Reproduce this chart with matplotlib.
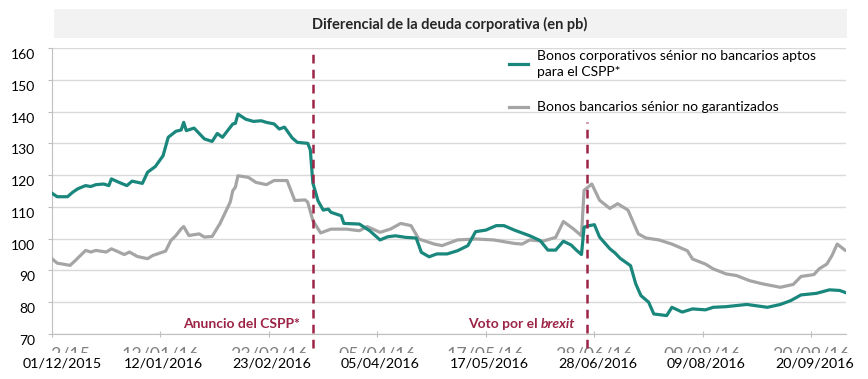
import datetime as dt
import numpy as np
import matplotlib
matplotlib.use('Agg')
import matplotlib.pyplot as plt
import matplotlib.dates as mdates
import matplotlib.transforms as mtransforms
from matplotlib.patches import Rectangle
from matplotlib.offsetbox import TextArea, HPacker, AnnotationBbox

## -- Data (spreads in bp)
cspp_dates = ["2015-12-01", "2015-12-03", "2015-12-07", "2015-12-09", "2015-12-11", "2015-12-14",
	"2015-12-16", "2015-12-18", "2015-12-21", "2015-12-23", "2015-12-24", "2015-12-27", "2015-12-30",
	"2016-01-01", "2016-01-05", "2016-01-07", "2016-01-10", "2016-01-13", "2016-01-15", "2016-01-18",
	"2016-01-20", "2016-01-21", "2016-01-22", "2016-01-25", "2016-01-29", "2016-02-01", "2016-02-03",
	"2016-02-05", "2016-02-09", "2016-02-10", "2016-02-11", "2016-02-14", "2016-02-17", "2016-02-20",
	"2016-02-22", "2016-02-25", "2016-02-27", "2016-02-29", "2016-03-03", "2016-03-05", "2016-03-09",
	"2016-03-10", "2016-03-11", "2016-03-13", "2016-03-15", "2016-03-17", "2016-03-18", "2016-03-22",
	"2016-03-23", "2016-03-29", "2016-04-02", "2016-04-06", "2016-04-09", "2016-04-12", "2016-04-16",
	"2016-04-20", "2016-04-22", "2016-04-25", "2016-04-28", "2016-05-02", "2016-05-06", "2016-05-10",
	"2016-05-13", "2016-05-17", "2016-05-21", "2016-05-24", "2016-05-28", "2016-06-01", "2016-06-03",
	"2016-06-07", "2016-06-10", "2016-06-13", "2016-06-16", "2016-06-19", "2016-06-21", "2016-06-23",
	"2016-06-24", "2016-06-26", "2016-06-28", "2016-06-30", "2016-07-04", "2016-07-06", "2016-07-08",
	"2016-07-12", "2016-07-14", "2016-07-16", "2016-07-19", "2016-07-21", "2016-07-26", "2016-07-28",
	"2016-08-01", "2016-08-05", "2016-08-10", "2016-08-13", "2016-08-18", "2016-08-26", "2016-09-03",
	"2016-09-08", "2016-09-12", "2016-09-16", "2016-09-22", "2016-09-27", "2016-10-01", "2016-10-03"]
cspp_values = [114.3, 113.2, 113.2, 114.6, 115.7, 116.7,
	116.4, 117.0, 117.2, 116.7, 118.8, 117.7, 116.7,
	118.1, 117.4, 120.9, 122.7, 126.1, 131.9, 133.8,
	134.2, 136.6, 134.0, 134.8, 131.4, 130.6, 133.1,
	131.9, 136.1, 136.3, 139.2, 137.6, 136.9, 137.1,
	136.6, 136.1, 134.5, 135.1, 131.7, 130.3, 130.0,
	128.0, 117.5, 111.9, 109.0, 109.3, 108.3, 107.2,
	104.8, 104.6, 102.5, 99.6, 100.6, 100.9, 100.4,
	100.2, 95.7, 94.3, 95.2, 95.2, 96.2, 97.8,
	102.2, 102.7, 104.1, 104.1, 102.7, 101.5, 100.9,
	99.4, 96.4, 96.4, 99.2, 98.0, 96.4, 95.0,
	103.6, 104.1, 104.4, 100.5, 96.8, 95.5, 93.8,
	91.5, 85.8, 82.1, 80.0, 76.3, 75.8, 78.4,
	76.9, 77.9, 77.6, 78.4, 78.6, 79.3, 78.4,
	79.3, 80.5, 82.3, 82.8, 83.9, 83.7, 83.1]

bank_dates = ["2015-12-01", "2015-12-03", "2015-12-08", "2015-12-10", "2015-12-12", "2015-12-14",
	"2015-12-16", "2015-12-18", "2015-12-22", "2015-12-24", "2015-12-26", "2015-12-29", "2015-12-31",
	"2016-01-03", "2016-01-07", "2016-01-09", "2016-01-14", "2016-01-16", "2016-01-18", "2016-01-20",
	"2016-01-21", "2016-01-23", "2016-01-27", "2016-01-29", "2016-02-01", "2016-02-04", "2016-02-08",
	"2016-02-09", "2016-02-10", "2016-02-11", "2016-02-15", "2016-02-18", "2016-02-22", "2016-02-25",
	"2016-03-01", "2016-03-04", "2016-03-08", "2016-03-09", "2016-03-11", "2016-03-14", "2016-03-18",
	"2016-03-24", "2016-03-29", "2016-04-01", "2016-04-06", "2016-04-10", "2016-04-14", "2016-04-18",
	"2016-04-21", "2016-04-27", "2016-04-30", "2016-05-06", "2016-05-13", "2016-05-20", "2016-05-28",
	"2016-05-31", "2016-06-03", "2016-06-08", "2016-06-13", "2016-06-16", "2016-06-20", "2016-06-23",
	"2016-06-24", "2016-06-27", "2016-06-30", "2016-07-04", "2016-07-07", "2016-07-11", "2016-07-15",
	"2016-07-18", "2016-07-23", "2016-07-28", "2016-08-03", "2016-08-05", "2016-08-10", "2016-08-13",
	"2016-08-18", "2016-08-22", "2016-08-27", "2016-09-01", "2016-09-08", "2016-09-13", "2016-09-16",
	"2016-09-21", "2016-09-23", "2016-09-26", "2016-09-28", "2016-09-30", "2016-10-03"]
bank_values = [93.7, 92.3, 91.6, 93.1, 94.7, 96.3,
	95.8, 96.3, 95.8, 96.8, 96.1, 95.0, 95.8,
	94.4, 93.7, 94.7, 96.1, 99.4, 101.0, 103.1,
	103.8, 101.0, 101.5, 100.5, 100.7, 104.7, 111.5,
	115.1, 116.2, 119.8, 119.3, 117.7, 117.0, 118.3,
	118.3, 112.0, 112.2, 111.5, 105.7, 101.8, 103.0,
	103.0, 102.5, 103.8, 102.0, 103.0, 104.8, 104.1,
	99.9, 98.3, 97.8, 99.6, 99.9, 99.6, 98.5,
	98.3, 99.6, 99.2, 100.4, 105.4, 103.0, 100.9,
	115.2, 117.2, 112.1, 109.5, 111.0, 109.0, 101.5,
	100.2, 99.6, 98.3, 96.2, 93.6, 92.0, 90.5,
	88.9, 88.4, 86.8, 85.8, 84.7, 85.6, 88.1,
	88.7, 90.5, 92.0, 94.7, 98.3, 96.4]

tick_dates = ["2015-12-01", "2016-01-12", "2016-02-23", "2016-04-05", "2016-05-17", "2016-06-28",
	"2016-08-09", "2016-09-20"]
tick_labels = ["01/12/2015", "12/01/2016", "23/02/2016", "05/04/2016", "17/05/2016", "28/06/2016",
	"09/08/2016", "20/09/2016"]
old_tick_labels = ["01/12/15", "12/01/16", "23/02/16", "05/04/16", "17/05/16", "28/06/16",
	"09/08/16", "20/09/16"]

event_dates = ["2016-03-11", "2016-06-25"]

title = "Diferencial de la deuda corporativa (en pb)"
label_cspp = "Bonos corporativos sénior no bancarios aptos\npara el CSPP*"
label_bank = "Bonos bancarios sénior no garantizados"

def to_dt(lst):
	return [dt.datetime.strptime(d, "%Y-%m-%d") for d in lst]

teal = "#1A877D"
grey = "#A5A5A5"
crimson = "#9C2447"
PX = 0.72  # points per pixel at dpi 100

plt.rcParams['font.family'] = ['Lato', 'DejaVu Sans']
fig = plt.figure(figsize=(8.68, 3.79), dpi=100)
W, H = 868.0, 379.0

# title banner
fig.patches.append(Rectangle((54 / W, 1 - 38 / H), 793 / W, 29 / H, transform=fig.transFigure,
	facecolor="#F2F2F2", edgecolor="none", zorder=0))
fig.text(450 / W, 1 - 24 / H, title, ha="center", va="center", fontsize=10.5, fontweight="bold",
	color="#262626")

ax = fig.add_axes([52 / W, 1 - 334 / H, 794 / W, 286 / H])

l1, = ax.plot(to_dt(cspp_dates), cspp_values, color=teal, lw=2.3, label=label_cspp, zorder=4)
l2, = ax.plot(to_dt(bank_dates), bank_values, color=grey, lw=2.3, label=label_bank, zorder=3)

ax.set_ylim(70, 160)
ax.set_yticks(np.arange(70, 161, 10))
ax.set_xlim(dt.datetime(2015, 12, 1), dt.datetime(2016, 10, 3, 10))
ax.set_xticks(to_dt(tick_dates))

ax.grid(axis="y", color="#D9D9D9", lw=1)
ax.set_axisbelow(True)
for s in ["top", "right"]:
	ax.spines[s].set_visible(False)
ax.spines["left"].set_color("#BFBFBF")
ax.spines["bottom"].set_color("#BFBFBF")
ax.tick_params(axis="y", direction="out", length=3, color="#BFBFBF", labelsize=10, pad=9)
ax.tick_params(axis="x", direction="inout", length=5, color="#BFBFBF", labelbottom=False)

for lab in ax.get_yticklabels():
	lab.set_transform(lab.get_transform() + mtransforms.ScaledTranslation(0, -6 / 100.0, fig.dpi_scale_trans))

# date labels (first one nudged right like in the original)
for i, (d, txt) in enumerate(zip(to_dt(tick_dates), tick_labels)):
	dx = 10 if i == 0 else 3
	ax.annotate(txt, xy=(mdates.date2num(d), 0), xycoords=("data", "axes fraction"),
		xytext=(dx * PX, -33 * PX), textcoords="offset points", ha="center", va="baseline",
		fontsize=10.3, color="black", annotation_clip=False, zorder=6)

# remnants of the old date labels, mostly hidden
clip = mtransforms.Bbox.from_extents(50, H - 353, W, H - 343)
for d, txt in zip(to_dt(tick_dates), old_tick_labels):
	t = ax.annotate(txt, xy=(mdates.date2num(d), 0), xycoords=("data", "axes fraction"),
		xytext=(0, -26 * PX), textcoords="offset points", ha="center", va="baseline",
		fontsize=12.8, color="#7F7F7F", annotation_clip=False)
	t.set_clip_box(clip)
	t.set_clip_on(True)

# event lines
ev = to_dt(event_dates)
ax.axvline(ev[0], ymin=-0.05, ymax=0.982, color=crimson, lw=1.8, dashes=(3.5, 2.5), clip_on=False, zorder=5)
ax.axvline(ev[1], ymin=-0.05, ymax=0.74, color=crimson, lw=1.8, dashes=(3.5, 2.5), clip_on=False, zorder=5)

ax.annotate("Anuncio del CSPP*", xy=(ev[0], 73.1), xytext=(-9, 0), textcoords="offset points",
	ha="right", va="center", fontsize=10, fontweight="bold", color=crimson)
pack = HPacker(children=[
	TextArea("Voto por el ", textprops=dict(fontsize=10, fontweight="bold", color=crimson)),
	TextArea("brexit", textprops=dict(fontsize=10, fontweight="bold", style="italic", color=crimson))],
	sep=0, pad=0, align="baseline")
ab = AnnotationBbox(pack, (ev[1], 73.1), xybox=(-8, 0), boxcoords="offset points",
	box_alignment=(1, 0.5), frameon=False, pad=0)
ax.add_artist(ab)

leg = ax.legend(handles=[l1, l2], loc="upper left", bbox_to_anchor=(509 / W, 1 - 50 / H),
	bbox_transform=fig.transFigure, frameon=False, fontsize=10, handlelength=1.4,
	handletextpad=0.65, labelspacing=1.65, borderpad=0, borderaxespad=0)
for t in leg.get_texts():
	t.set_linespacing(1.45)

plt.savefig("out.png", dpi=100)
